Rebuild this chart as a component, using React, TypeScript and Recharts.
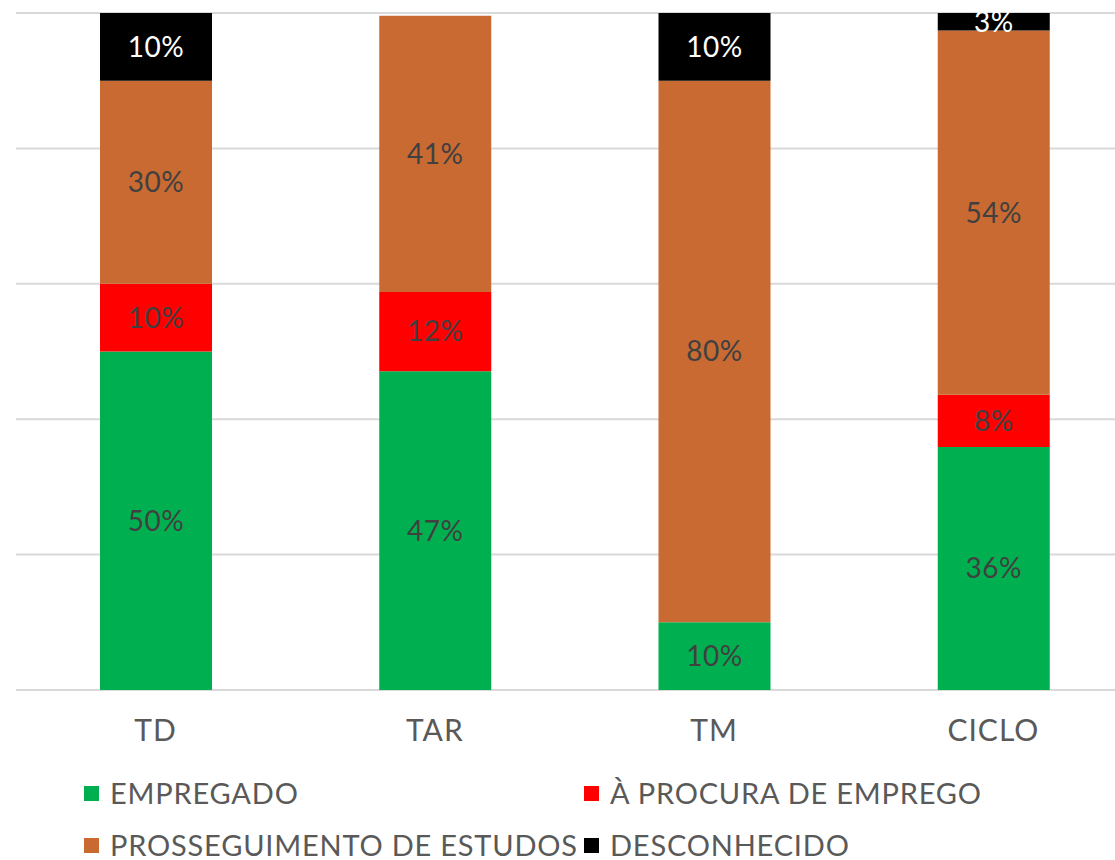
import React from "react";
import { BarChart, Bar, XAxis, YAxis, CartesianGrid, LabelList, Legend } from "recharts";

const categories = ["TD", "TAR", "TM", "CICLO"];
const empregado = [50, 47.1, 10, 35.9];
const procura = [10, 11.7, 0, 7.7];
const prosseguimento = [30, 40.8, 80, 53.8];
const desconhecido = [10, 0, 10, 2.6];
const yTicks = [0, 20, 40, 60, 80, 100];

const series = [
  { key: "empregado", name: "EMPREGADO", color: "#00B050", label: "#404040" },
  { key: "procura", name: "À PROCURA DE EMPREGO", color: "#FF0000", label: "#404040" },
  { key: "prosseguimento", name: "PROSSEGUIMENTO DE ESTUDOS", color: "#C96A32", label: "#404040" },
  { key: "desconhecido", name: "DESCONHECIDO", color: "#000000", label: "#FFFFFF" },
];

const data = categories.map((c, i) => ({
  cat: c,
  empregado: empregado[i],
  procura: procura[i],
  prosseguimento: prosseguimento[i],
  desconhecido: desconhecido[i],
}));

const FONT = "Lato, 'Open Sans', sans-serif";

const pct = (v: any) => (v ? `${Math.round(v)}%` : "");

function LegendBox() {
  const pos = [
    { left: 84, top: 779 },
    { left: 584, top: 779 },
    { left: 84, top: 831 },
    { left: 584, top: 831 },
  ];
  return (
    <div>
      {series.map((s, i) => (
        <div
          key={s.key}
          style={{
            position: "absolute",
            left: pos[i].left,
            top: pos[i].top,
            display: "flex",
            alignItems: "center",
            fontFamily: FONT,
            fontSize: 29,
            letterSpacing: 0.8,
            lineHeight: "28px",
            color: "#595959",
            whiteSpace: "nowrap",
            height: 28,
          }}
        >
          <span style={{ width: 15, height: 15, background: s.color, marginRight: 11, display: "inline-block" }} />
          {s.name}
        </div>
      ))}
    </div>
  );
}

export default function App() {
  return (
    <div style={{ position: "fixed", left: 0, top: 0, width: 1115, height: 860, overflow: "hidden", background: "#fff" }}>
      <BarChart
        width={1140}
        height={860}
        data={data}
        margin={{ top: 13, left: 16, right: 7, bottom: 100 }}
        barSize={112}
      >
        <CartesianGrid vertical={false} stroke="#D9D9D9" strokeWidth={2} />
        <YAxis hide domain={[0, 100]} ticks={yTicks} allowDataOverflow />
        <XAxis
          dataKey="cat"
          axisLine={false}
          tickLine={false}
          height={70}
          tickMargin={24}
          tick={{ fill: "#595959", fontSize: 30, fontFamily: FONT, letterSpacing: 1 }}
        />
        <Legend
          content={<LegendBox />}
          wrapperStyle={{ position: "absolute", left: 0, top: 0, width: 0, height: 0 }}
        />
        {series.map((s) => (
          <Bar key={s.key} dataKey={s.key} name={s.name} stackId="a" fill={s.color} isAnimationActive={false}>
            <LabelList
              dataKey={s.key}
              position="center"
              formatter={pct}
              fill={s.label}
              style={{ fontSize: 28, fontFamily: FONT, letterSpacing: 0.5 }}
            />
          </Bar>
        ))}
      </BarChart>
    </div>
  );
}
